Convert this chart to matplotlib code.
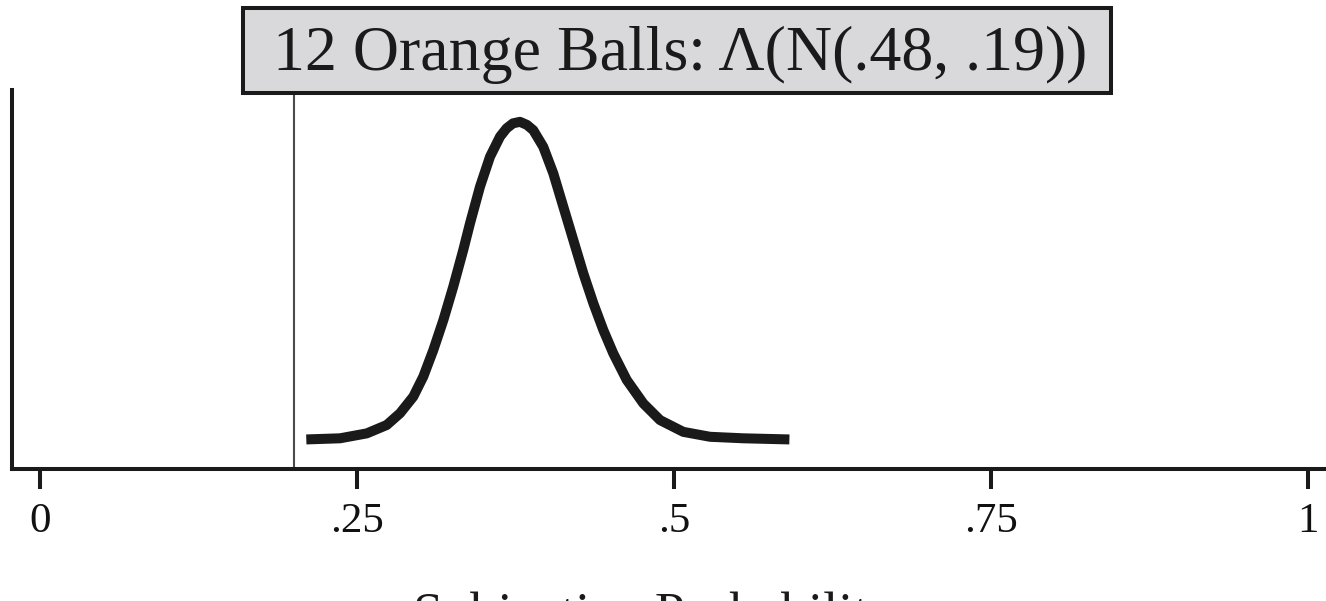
import matplotlib
matplotlib.use("Agg")
import matplotlib.pyplot as plt
from matplotlib.patches import Rectangle

plt.rcParams['font.family'] = ['Liberation Serif', 'DejaVu Serif']

# curve (x = subjective probability, y = relative density)
prob = [0.210, 0.2366, 0.2577, 0.2734, 0.2839, 0.2944, 0.3023, 0.3102, 0.3181,
        0.3259, 0.3338, 0.3391, 0.3470, 0.3549, 0.3628, 0.3680, 0.3730,
        0.3785, 0.3840, 0.3890, 0.3969, 0.4048, 0.4127, 0.4206, 0.4285,
        0.4364, 0.4442, 0.4521, 0.4627, 0.4758, 0.4890, 0.5073, 0.5284,
        0.5547, 0.591]
dens = [0.078, 0.081, 0.094, 0.116, 0.147, 0.191, 0.244, 0.314, 0.393,
        0.481, 0.578, 0.648, 0.745, 0.824, 0.877, 0.899, 0.912,
        0.916, 0.908, 0.894, 0.850, 0.780, 0.692, 0.604, 0.516,
        0.437, 0.367, 0.305, 0.235, 0.173, 0.129, 0.098, 0.085,
        0.081, 0.078]

ref_line = 0.2
tick_pos = [0, 0.25, 0.5, 0.75, 1]
tick_lab = ['0', '.25', '.5', '.75', '1']
title = '12 Orange Balls: \u039b(N(.48, .19))'
xlabel = 'Subjective Probability'

fig = plt.figure(figsize=(13.26, 6.01), dpi=100)
ax = fig.add_axes([12 / 1326, 1 - 469 / 601, 1 - 12 / 1326, (469 - 90) / 601])

ax.plot(prob, dens, color='#1a1a1a', lw=7.2, solid_capstyle='butt',
        solid_joinstyle='round')
ax.axvline(ref_line, color='#4a4a4a', lw=1.5)

ax.set_xlim(-0.0221, 1.0142)
ax.set_ylim(0, 1)
ax.set_xticks(tick_pos)
ax.set_xticklabels(tick_lab, fontsize=31, color='#111111')
ax.set_yticks([])
ax.tick_params(axis='x', direction='out', length=14.4, width=2.9,
               color='#1a1a1a', pad=10)
for s in ['top', 'right']:
    ax.spines[s].set_visible(False)
for s in ['left', 'bottom']:
    ax.spines[s].set_linewidth(2.9)
    ax.spines[s].set_color('#1a1a1a')

# title box
fig.patches.append(Rectangle((243 / 1326, 1 - 93 / 601), 868 / 1326, 85 / 601,
                             transform=fig.transFigure, facecolor='#d9d9db',
                             edgecolor='#1a1a1a', lw=2.9, zorder=5))
fig.text(0.5132, 1 - 70 / 601, title, ha='center', va='baseline',
         fontsize=46, color='#1a1a1a', zorder=6)

# axis title, cut off by the bottom edge as in the source
fig.text(0.493, 1 - 591 / 601, xlabel, ha='center', va='top', fontsize=39,
         color='#1a1a1a')

fig.savefig('out.png', dpi=100)
